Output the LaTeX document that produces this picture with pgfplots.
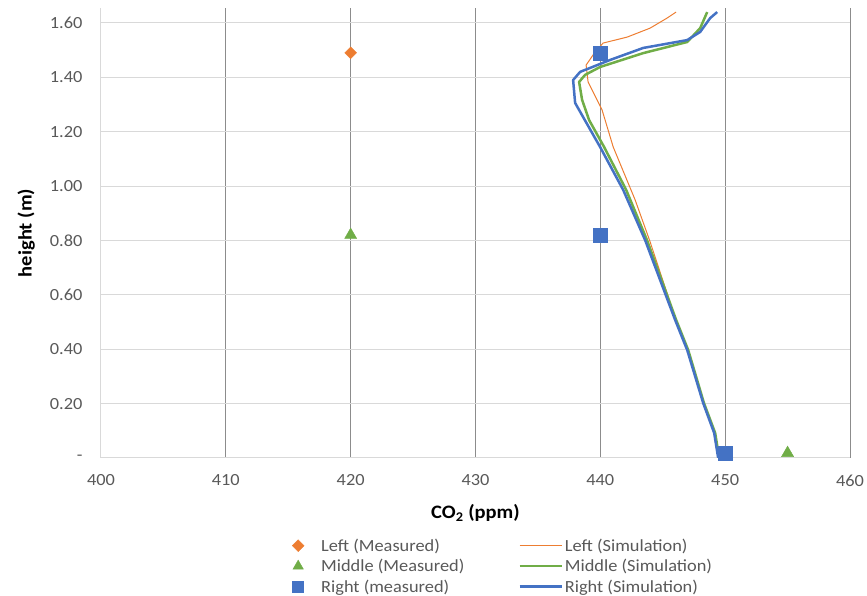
\documentclass[border=0pt]{standalone}
\usepackage{fontspec}
\setmainfont{Carlito}[FakeStretch=1.08]
\usepackage{pgfplots}
\pgfplotsset{compat=1.18}
\definecolor{cOr}{HTML}{ED7D31}
\definecolor{cGr}{HTML}{70AD47}
\definecolor{cBl}{HTML}{4472C4}
\definecolor{tickgray}{HTML}{595959}
\definecolor{vgrid}{HTML}{8C8C8C}
\definecolor{hgrid}{HTML}{D9D9D9}
\pgfplotsset{
  markleg/.style={legend image code/.code={\path[draw=none,fill=none] (0pt,-6pt) rectangle (29pt,6pt); \draw[##1] plot coordinates {(8pt,0pt)};}},
  lineleg/.style={legend image code/.code={\draw[##1] (0pt,0pt) -- (42pt,0pt);}},
}
\begin{document}
\begin{tikzpicture}[x=1pt,y=1pt]
\path[use as bounding box] (-101,-138) rectangle (766,458);
\begin{axis}[
  at={(0pt,0pt)}, anchor=south west,
  scale only axis, width=749pt, height=450pt,
  xmin=400, xmax=460, ymin=0, ymax=1.655,
  xtick={400,410,420,430,440,450,460},
  ytick={0,0.2,0.4,0.6,0.8,1.0,1.2,1.4,1.6},
  yticklabels={-\hspace{8pt},0.20,0.40,0.60,0.80,1.00,1.20,1.40,1.60},
  /pgf/number format/assume math mode=true,
  tick label style={font=\fontsize{17}{19}\selectfont, text=tickgray},
  xticklabel style={yshift=-13pt},
  yticklabel style={xshift=-15pt},
  major tick length=0pt,
  grid=major,
  x grid style={color=vgrid, line width=1pt},
  y grid style={color=hgrid, line width=1pt},
  axis lines=left,
  axis line style={-, color=hgrid, line width=1pt},
  xlabel={\textbf{CO\textsubscript{2} (ppm)}},
  ylabel={\textbf{height (m)}},
  every axis x label/.style={at={(axis description cs:0.5,-0.122)}, anchor=center, font=\fontsize{19}{22}\selectfont},
  every axis y label/.style={at={(axis description cs:-0.1,0.5)}, rotate=90, anchor=center, font=\fontsize{19}{22}\selectfont},
  legend columns=2,
  legend cell align=left,
  legend style={at={(axis description cs:0.2483,-0.170)}, anchor=north west, draw=none, fill=none,
    font=\fontsize{17}{19}\selectfont, text=tickgray, row sep=2.5pt,
    nodes={inner sep=2pt},
    /tikz/every even column/.append style={column sep=52pt}},
]
\addlegendimage{markleg, only marks, mark=square*, mark size=4.2pt, mark options={rotate=45}, color=cOr}
\addlegendentry{Left (Measured)}
\addlegendimage{lineleg, color=cOr, line width=1pt}
\addlegendentry{Left (Simulation)}
\addlegendimage{markleg, only marks, mark=triangle*, mark size=6pt, color=cGr}
\addlegendentry{Middle (Measured)}
\addlegendimage{lineleg, color=cGr, line width=2.5pt}
\addlegendentry{Middle (Simulation)}
\addlegendimage{markleg, only marks, mark=square*, mark size=5.5pt, color=cBl}
\addlegendentry{Right (measured)}
\addlegendimage{lineleg, color=cBl, line width=2.5pt}
\addlegendentry{Right (Simulation)}

% Simulation lines
\addplot[forget plot, color=cOr, line width=1pt, no marks] coordinates {
(449.44,0) (449.12,0.092) (448.24,0.202) (447.0,0.397) (446.05,0.508) (443.95,0.8) (442.79,0.949) (441.03,1.144) (440.14,1.280) (439.02,1.383) (438.86,1.445) (439.58,1.493) (440.22,1.526) (442.15,1.548) (443.99,1.581) (445.35,1.618) (446.07,1.640)};
\addplot[forget plot, color=cGr, line width=2.5pt, no marks, line join=round] coordinates {
(449.52,0) (449.2,0.092) (448.3,0.202) (447.04,0.397) (446.07,0.508) (443.75,0.8) (442.07,0.986) (440.3,1.144) (439.1,1.243) (438.54,1.317) (438.3,1.383) (438.78,1.409) (439.98,1.438) (443.43,1.489) (446.96,1.530) (448.0,1.581) (448.56,1.640)};
\addplot[forget plot, color=cBl, line width=2.5pt, no marks, line join=round] coordinates {
(449.44,0) (449.12,0.092) (448.24,0.202) (446.96,0.397) (445.99,0.508) (443.6,0.8) (441.83,0.986) (439.98,1.144) (438.62,1.254) (437.98,1.306) (437.82,1.390) (438.38,1.420) (440.79,1.464) (443.43,1.508) (446.96,1.537) (448.0,1.567) (448.8,1.618) (449.36,1.640)};

% Measured points
\addplot[forget plot, only marks, mark=square*, mark size=4.2pt, mark options={rotate=45}, color=cOr] coordinates {(420,1.49)};
\addplot[forget plot, only marks, mark=triangle*, mark size=7pt, color=cGr] coordinates {(420,0.82) (455,0.018)};
\addplot[forget plot, only marks, mark=square*, mark size=7pt, color=cBl] coordinates {(440,1.49) (440,0.82) (450,0.018)};
\end{axis}
\end{tikzpicture}
\end{document}
